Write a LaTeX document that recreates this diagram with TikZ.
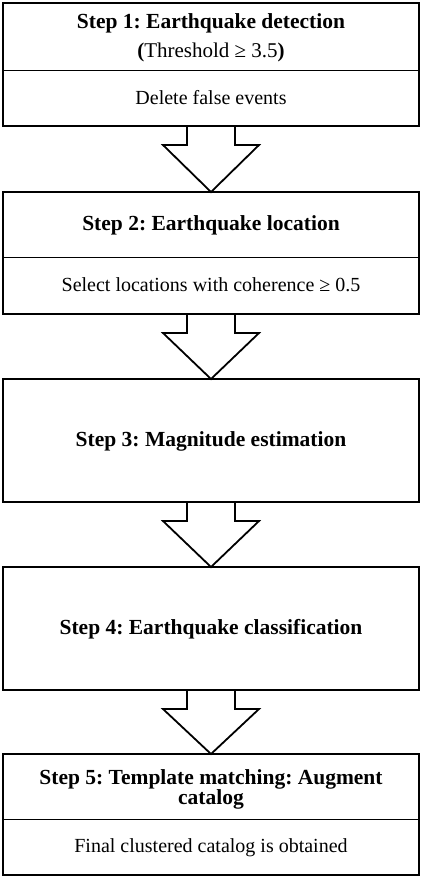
\documentclass[tikz,border=0pt]{standalone}
\usepackage{fontspec}
\setmainfont{Liberation Serif}
\usetikzlibrary{calc}
\frenchspacing
\begin{document}
\begin{tikzpicture}[x=1pt,y=1pt,
  box/.style={draw, line width=2pt, minimum width=416pt, inner sep=0pt, outer sep=0pt, fill=white},
  divider/.style={line width=1pt},
  ttl/.style={font=\fontsize{21.5}{20}\selectfont\bfseries, align=center, inner sep=0pt},
  sub/.style={font=\fontsize{21}{21}\selectfont, align=center, inner sep=0pt},
  txt/.style={font=\fontsize{20}{21}\selectfont, align=center, inner sep=0pt},
  blockarrow/.style={draw, line width=1.8pt, fill=white, line join=miter}]
\useasboundingbox (0,0) rectangle (422,-881);
\newcommand\flowarrow[2]{%
  \draw[blockarrow] ($(#1.south)+(-24,0)$) -- ++(0,-19) -- ++(-24,0) -- (#2.north)
    -- ($(#1.south)+(48,-19)$) -- ($(#1.south)+(24,-19)$) -- ($(#1.south)+(24,0)$);}
% boxes
\node[box, minimum height=123pt] (b1) at (211,-64.5) {};
\node[box, minimum height=122pt] (b2) at (211,-253) {};
\node[box, minimum height=123pt] (b3) at (211,-440.5) {};
\node[box, minimum height=123pt] (b4) at (211,-628.5) {};
\node[box, minimum height=121pt] (b5) at (211,-814.5) {};
\flowarrow{b1}{b2}
\flowarrow{b2}{b3}
\flowarrow{b3}{b4}
\flowarrow{b4}{b5}
\node[box, minimum height=123pt, fill=none] at (b1) {};
\node[box, minimum height=122pt, fill=none] at (b2) {};
\node[box, minimum height=123pt, fill=none] at (b3) {};
\node[box, minimum height=123pt, fill=none] at (b4) {};
\node[box, minimum height=121pt, fill=none] at (b5) {};
% dividers
\draw[divider] (b1.west |- 0,-70) -- (b1.east |- 0,-70);
\draw[divider] (b2.west |- 0,-257) -- (b2.east |- 0,-257);
\draw[divider] (b5.west |- 0,-819) -- (b5.east |- 0,-819);
% texts
\node[ttl, anchor=base] (t1) at (211,-28.3) {Step 1: Earthquake detection};
\node[sub, anchor=base] (t1b) at (211,-57.3) {\textbf{(}Threshold ≥ 3.5\textbf{)}};
\node[txt, anchor=base] (t1c) at (211,-104.3) {Delete false events};
\node[ttl, anchor=base] (t2) at (211,-230) {Step 2: Earthquake location};
\node[txt, anchor=base] (t2c) at (211,-291) {Select locations with coherence ≥ 0.5};
\node[ttl, anchor=base] (t3) at (211,-446.7) {Step 3: Magnitude estimation};
\node[ttl, anchor=base] (t4) at (211,-634.3) {Step 4: Earthquake classification};
\node[ttl] (t5) at (211,-789) {Step 5: Template matching: Augment\\catalog};
\node[txt, anchor=base] (t5c) at (211,-852.7) {Final clustered catalog is obtained};
\end{tikzpicture}
\end{document}
